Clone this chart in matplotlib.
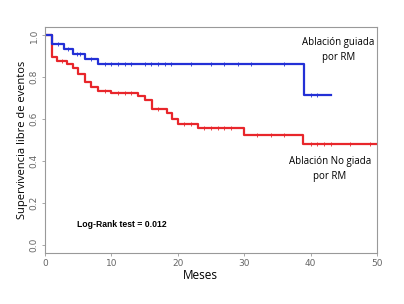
import matplotlib
matplotlib.use('Agg')
import matplotlib.pyplot as plt

# Kaplan-Meier steps (months, survival)
guidedTimes = [0, 1.0, 2.8, 4.2, 6.0, 8.0, 39.0, 43.0]
guidedSurv = [1.0, 0.958, 0.934, 0.913, 0.887, 0.863, 0.716, 0.716]
guidedCensor = [1.9, 3.5, 4.8, 5.3, 7.0, 9.0, 10, 11, 12, 13, 15, 16, 17, 18, 19,
                22, 25, 27, 29, 31, 36, 40, 41]

notGuidedTimes = [0, 1.0, 1.85, 3.3, 4.2, 5.0, 6.0, 7.0, 8.0, 10.0, 14.0, 15.1,
                  16.1, 18.3, 19.1, 20.1, 23.1, 29.9, 38.9, 50.0]
notGuidedSurv = [1.0, 0.896, 0.877, 0.864, 0.844, 0.816, 0.775, 0.755, 0.736,
                 0.724, 0.711, 0.692, 0.647, 0.628, 0.602, 0.578, 0.555, 0.524,
                 0.481, 0.481]
notGuidedCensor = [2.5, 9.0, 11, 12, 13, 17, 21, 22, 24, 25, 26, 27, 28,
                   32, 34, 36, 40, 41, 42, 43, 46, 49]

xTicks = [0, 10, 20, 30, 40, 50]
yTicks = [0.0, 0.2, 0.4, 0.6, 0.8, 1.0]


def survAt(times, surv, t):
    val = surv[0]
    for ti, si in zip(times, surv):
        if ti <= t:
            val = si
    return val


fig = plt.figure(figsize=(4.04, 3.04), dpi=100)
ax = fig.add_axes([0.1114, 0.1678, 0.8218, 0.7434])

red = '#e8262b'
blue = '#2330d6'
ax.step(notGuidedTimes, notGuidedSurv, where='post', color=red, lw=1.6)
ax.step(guidedTimes, guidedSurv, where='post', color=blue, lw=1.6)
ax.plot(notGuidedCensor, [survAt(notGuidedTimes, notGuidedSurv, t) for t in notGuidedCensor],
        ls='none', marker='|', ms=3.5, mew=0.6, color=red)
ax.plot(guidedCensor, [survAt(guidedTimes, guidedSurv, t) for t in guidedCensor],
        ls='none', marker='|', ms=3.5, mew=0.6, color=blue)

ax.set_xlim(0, 50)
ax.set_ylim(-0.04, 1.04)
ax.set_xticks(xTicks)
ax.set_yticks(yTicks)
ax.set_xticklabels([str(v) for v in xTicks])
ax.set_yticklabels(['%.1f' % v for v in yTicks], rotation=90, va='center')
ax.tick_params(labelsize=6.5, labelcolor='#666666', color='#999999',
               length=2.5, width=0.6, pad=2)
for s in ax.spines.values():
    s.set_color('#999999')
    s.set_linewidth(0.8)

font = 'Open Sans'
fig.text(0.055, 0.54, 'Supervivencia libre de eventos', family=font, fontsize=8,
         rotation=90, ha='center', va='center')
fig.text(0.495, 0.095, 'Meses', family=font, fontsize=8.5, ha='center', va='center')

fig.text(0.837, 0.86, 'Ablación guiada', family=font, fontsize=7, ha='center', va='center')
fig.text(0.837, 0.81, 'por RM', family=font, fontsize=7, ha='center', va='center')
fig.text(0.817, 0.47, 'Ablación No giada', family=font, fontsize=7, ha='center', va='center')
fig.text(0.817, 0.42, 'por RM', family=font, fontsize=7, ha='center', va='center')
fig.text(0.302, 0.263, 'Log-Rank test = 0.012', family='Liberation Sans',
         fontsize=6.2, fontweight='bold', ha='center', va='center')

fig.savefig('out.png', dpi=100)
